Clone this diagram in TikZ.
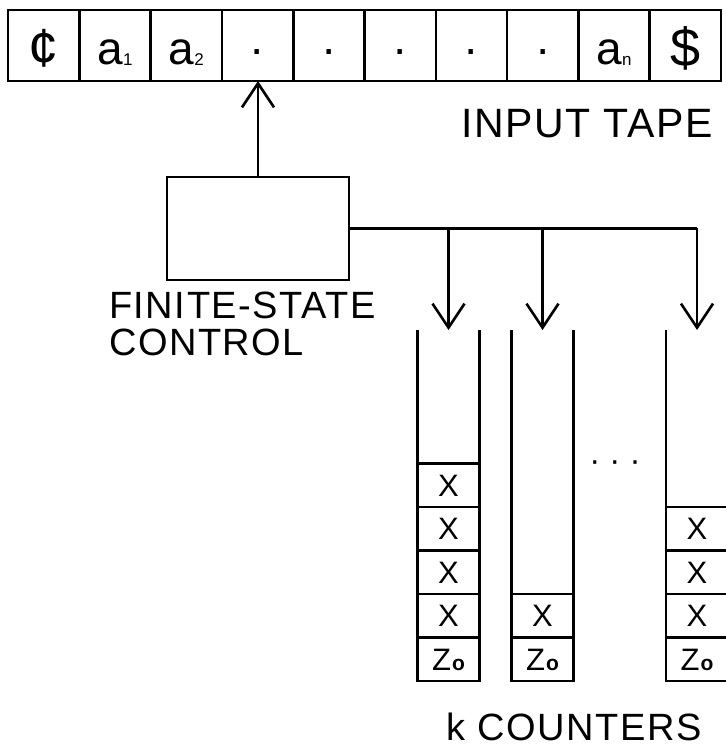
\documentclass[tikz,border=0pt]{standalone}
\usepackage{fontspec}
\setmainfont{Liberation Sans}
\newfontfamily\LBLFAMILY[LetterSpace=4]{Liberation Sans}
\usepackage{tikz}
\usetikzlibrary{positioning,arrows.meta}
\newcommand{\TAPEFONT}{\fontsize{46}{46}\selectfont}
\newcommand{\BIGSIGN}{\fontsize{54}{54}\selectfont}
\newcommand{\CELLFONT}{\fontsize{31}{31}\selectfont}
\newcommand{\LABELFONT}{\LBLFAMILY\fontsize{38}{37}\selectfont}
\newcommand{\SUB}[1]{\raisebox{-1pt}{\fontsize{17}{17}\selectfont #1}}
\newcommand{\ZO}{Z\hspace{1pt}{\fontsize{21}{21}\selectfont\bfseries o}}
\tikzset{
  tapecell/.style={rectangle,draw,line width=2.6pt,minimum width=71.3pt,minimum height=71pt,inner sep=0pt,outer sep=0pt,text height=38pt,text depth=0pt,font=\TAPEFONT},
  fsc/.style={rectangle,draw,line width=2.6pt,minimum width=182pt,minimum height=103pt},
  ctrcell/.style={rectangle,draw,line width=2.4pt,minimum width=62pt,minimum height=43.5pt,inner sep=0pt,outer sep=0pt,text height=22pt,text depth=0pt,font=\CELLFONT},
  wall/.style={line width=2.6pt},
  wire/.style={line width=2.6pt},
  edge/.style={-{Straight Barb[length=24pt,width=32pt]},line width=2.6pt},
  caption/.style={inner sep=0pt,align=left,font=\LABELFONT}
}

\begin{document}
\begin{tikzpicture}[x=1pt,y=1pt]
  \useasboundingbox (0,0) rectangle (726,748);
  % input tape
  \node[tapecell,font=\BIGSIGN,text height=43pt] (c0) at (43.65,702.5) {¢};
  \node[tapecell,right=0pt of c0] (c1) {a\SUB{1}};
  \node[tapecell,right=0pt of c1] (c2) {a\SUB{2}};
  \node[tapecell,right=0pt of c2] (c3) {·};
  \node[tapecell,right=0pt of c3] (c4) {·};
  \node[tapecell,right=0pt of c4] (c5) {·};
  \node[tapecell,right=0pt of c5] (c6) {·};
  \node[tapecell,right=0pt of c6] (c7) {·};
  \node[tapecell,right=0pt of c7] (c8) {a\SUB{n}};
  \node[tapecell,right=0pt of c8,font=\BIGSIGN,text height=43pt] (c9) {\$};
  \node[caption,font=\LBLFAMILY\fontsize{41}{41}\selectfont,anchor=base east] (tapelbl) at (713,610) {INPUT TAPE};
  % finite-state control
  \node[fsc] (control) at (258,519.5) {};
  \node[caption,anchor=north west] (ctrllbl) at (109,456) {FINITE-STATE\\CONTROL};
  \draw[edge] (control.north) -- (control.north |- c3.south);
  % counters
  \coordinate (top1) at (448.5,418);
  \coordinate (top2) at (542.5,418);
  \coordinate (top3) at (697,418);
  \draw[wire] (control.east) -- (control.east -| top3);
  \draw[edge] (control.east -| top1) -- (top1);
  \draw[edge] (control.east -| top2) -- (top2);
  \draw[edge] (control.east -| top3) -- (top3);
  \node[ctrcell] (z1) at (448.5,88.75) {\ZO};
  \node[ctrcell,above=0pt of z1] (x11) {X};
  \node[ctrcell,above=0pt of x11] (x12) {X};
  \node[ctrcell,above=0pt of x12] (x13) {X};
  \node[ctrcell,above=0pt of x13] (x14) {X};
  \node[ctrcell] (z2) at (542.5,88.75) {\ZO};
  \node[ctrcell,above=0pt of z2] (x21) {X};
  \node[ctrcell] (z3) at (697,88.75) {\ZO};
  \node[ctrcell,above=0pt of z3] (x31) {X};
  \node[ctrcell,above=0pt of x31] (x32) {X};
  \node[ctrcell,above=0pt of x32] (x33) {X};
  \draw[wall] (x14.north west) -- (x14.north west |- top1);
  \draw[wall] (x14.north east) -- (x14.north east |- top1);
  \draw[wall] (x21.north west) -- (x21.north west |- top2);
  \draw[wall] (x21.north east) -- (x21.north east |- top2);
  \draw[wall] (x33.north west) -- (x33.north west |- top3);
  \draw[wall] (x33.north east) -- (x33.north east |- top3);
  \node[inner sep=0pt,font=\fontsize{33}{33}\selectfont] (dots) at (615,282) {· · ·};
  \node[caption,anchor=base east] (ctrslbl) at (702,8) {k COUNTERS};
\end{tikzpicture}
\end{document}
